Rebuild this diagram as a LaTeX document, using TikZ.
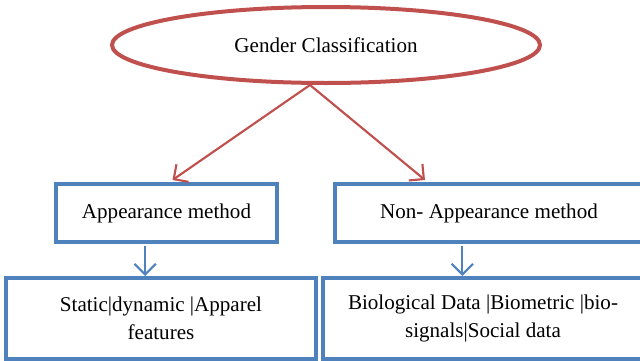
\documentclass[tikz,border=0pt]{standalone}
\usepackage{fontspec}
\setmainfont{Liberation Serif}
\usetikzlibrary{arrows.meta,shapes.geometric}
\definecolor{ered}{HTML}{C0504D}
\definecolor{eblue}{HTML}{4F81BD}
\begin{document}
\begin{tikzpicture}[x=0.75pt,y=-0.75pt,
  txt/.style={font=\fontsize{15.8}{21}\selectfont,align=center,inner sep=0pt},
  oval/.style={ellipse,draw=ered,line width=3pt,txt},
  bbox/.style={rectangle,draw=eblue,line width=3pt,txt},
  redarr/.style={draw=ered,line width=1.6pt,-{Straight Barb[length=8pt,width=16pt]}},
  bluearr/.style={draw=eblue,line width=1.6pt,-{Straight Barb[length=8pt,width=16pt]}}]
\useasboundingbox (0,0) rectangle (640,361);
\node[oval,minimum width=321pt,minimum height=57pt] (g) at (326,45) {Gender Classification};
\node[bbox,minimum width=165.75pt,minimum height=43.5pt] (a) at (166.5,213) {Appearance method};
\node[bbox,minimum width=231pt,minimum height=43.5pt] (n) at (489,213) {Non- Appearance method};
\node[bbox,minimum width=232.5pt,minimum height=60.75pt] (s) at (161,318.5) {Static|dynamic |Apparel\\features};
\node[bbox,minimum width=240pt,minimum height=60.75pt] (b) at (483,318.5) {Biological Data |Biometric |bio-\\signals|Social data};
\draw[redarr] ([xshift=-12pt]g.south) -- ([xshift=4.5pt,yshift=1.5pt]a.north);
\draw[redarr] ([xshift=-12pt]g.south) -- ([xshift=-48pt,yshift=1.5pt]n.north);
\draw[bluearr] ([xshift=-16pt,yshift=-1.5pt]a.south) -- ([xshift=-16pt,yshift=0pt]a.south |- s.north);
\draw[bluearr] ([xshift=-20pt,yshift=-1.5pt]n.south) -- ([xshift=-20pt]n.south |- b.north);
\end{tikzpicture}
\end{document}
